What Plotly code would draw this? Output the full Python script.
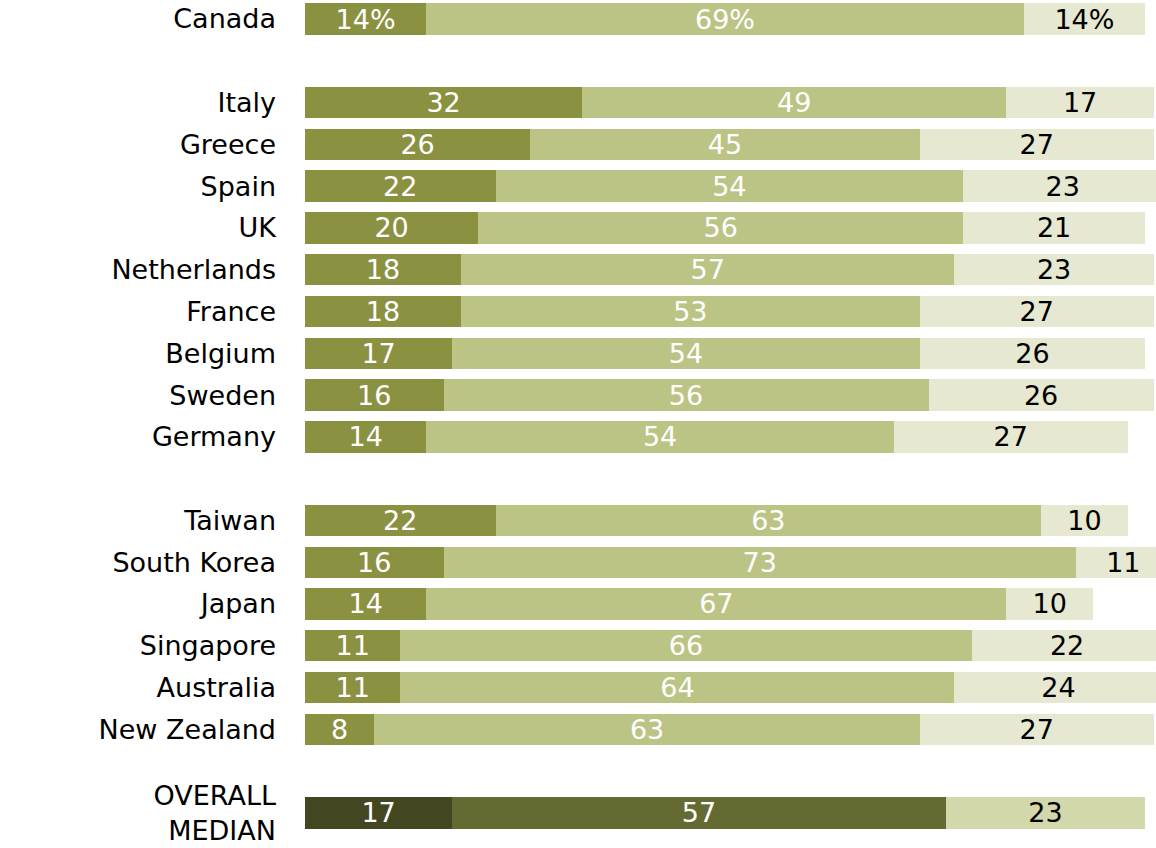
import plotly.graph_objects as go

countries = ["Canada", "Italy", "Greece", "Spain", "UK", "Netherlands", "France",
             "Belgium", "Sweden", "Germany", "Taiwan", "South Korea", "Japan",
             "Singapore", "Australia", "New Zealand", "OVERALL<br>MEDIAN"]
positions = [0, 2, 3, 4, 5, 6, 7, 8, 9, 10, 12, 13, 14, 15, 16, 17, 19]
seg1 = [14, 32, 26, 22, 20, 18, 18, 17, 16, 14, 22, 16, 14, 11, 11, 8, 17]
seg2 = [69, 49, 45, 54, 56, 57, 53, 54, 56, 54, 63, 73, 67, 66, 64, 63, 57]
seg3 = [14, 17, 27, 23, 21, 23, 27, 26, 26, 27, 10, 11, 10, 22, 24, 27, 23]

c1, c2, c3 = "#8A9141", "#BCC485", "#E6E8D2"
m1, m2, m3 = "#434620", "#656A32", "#D3D8AB"
n = len(countries)
cols1 = [c1] * (n - 1) + [m1]
cols2 = [c2] * (n - 1) + [m2]
cols3 = [c3] * (n - 1) + [m3]


def labels(vals):
    return [f"{v}%" if i == 0 else str(v) for i, v in enumerate(vals)]


FONT = "DejaVu Sans"
fig = go.Figure()
for vals, cols, tc in [(seg1, cols1, "white"), (seg2, cols2, "white"), (seg3, cols3, "black")]:
    fig.add_trace(go.Bar(
        y=positions, x=vals, orientation="h", width=0.75,
        marker=dict(color=cols, line=dict(width=0)),
        text=labels(vals), textposition="inside", insidetextanchor="middle",
        textangle=0, insidetextfont=dict(color=tc, size=27, family=FONT),
        hoverinfo="skip", showlegend=False,
    ))

fig.update_layout(
    barmode="stack", width=1156, height=848,
    margin=dict(l=305, r=0, t=0, b=0),
    plot_bgcolor="white", paper_bgcolor="white",
    uniformtext=dict(minsize=24, mode="show"),
    xaxis=dict(range=[0, 98.27], visible=False, fixedrange=True),
    yaxis=dict(range=[19.84, -0.455], tickmode="array", tickvals=positions,
               ticktext=countries, showgrid=False, zeroline=False, showline=False,
               ticks="", ticklabelstandoff=28, ticklabeloverflow="allow",
               tickfont=dict(family=FONT, size=27, color="black")),
)
fig.write_html("out.html", config={"displayModeBar": False},
               post_script="document.body.style.margin='0';document.body.style.overflow='hidden';")
